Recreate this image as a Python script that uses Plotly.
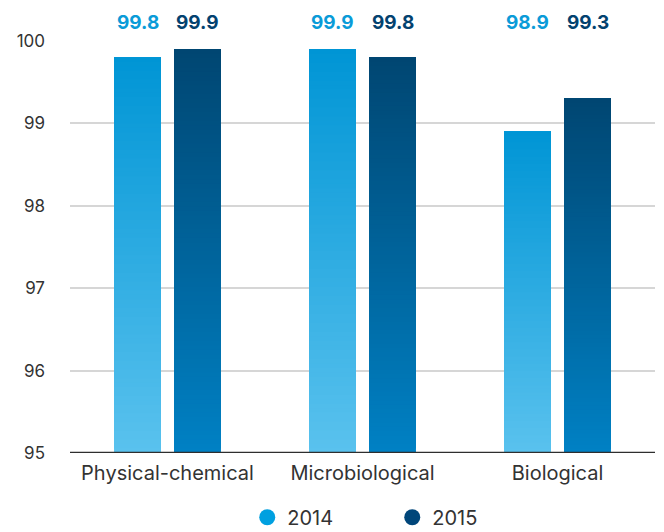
import plotly.graph_objects as go

categories = ["Physical-chemical", "Microbiological", "Biological"]
series_names = ["2014", "2015"]
values_2014 = [99.8, 99.9, 98.9]
values_2015 = [99.9, 99.8, 99.3]
y_ticks = [95, 96, 97, 98, 99, 100]

AXIS_MIN = 95
FONT = "Inter"

styles = {
    "2014": dict(top=(0, 149, 213), bottom=(90, 194, 238), label="#0A9BD8", legend="#00A0E0"),
    "2015": dict(top=(0, 70, 114), bottom=(0, 129, 196), label="#03426F", legend="#00467A"),
}

def mix(c0, c1, t):
    return "rgb(%d,%d,%d)" % tuple(round(a + (b - a) * t) for a, b in zip(c0, c1))

fig = go.Figure()
N = 90
for name, vals in [("2014", values_2014), ("2015", values_2015)]:
    st = styles[name]
    for k in range(N):
        # each segment runs from its own start up to the bar top; later ones overlay earlier ones
        bases = [AXIS_MIN + (v - AXIS_MIN) * k / N for v in vals]
        heights = [v - b for v, b in zip(vals, bases)]
        t = (k + 0.5) / N
        col = mix(st["bottom"], st["top"], t)
        fig.add_trace(go.Bar(
            x=categories, y=heights, base=bases, offsetgroup=name,
            marker=dict(color=col, line=dict(width=0)),
            showlegend=False, hoverinfo="skip",
        ))
    # legend entry
    fig.add_trace(go.Scatter(
        x=[categories[0]], y=[None], mode="markers", name=name,
        marker=dict(symbol="circle", size=20, color=st["legend"]),
    ))
    # value labels
    shift = -30 if name == "2014" else 30
    for c, v in zip(categories, vals):
        fig.add_annotation(
            x=c, xref="x", y=1, yref="paper", yanchor="middle", yshift=19, xshift=shift,
            text="<b>%.1f</b>" % v, showarrow=False,
            font=dict(family=FONT, size=19, color=st["label"]),
        )

fig.update_layout(
    width=664, height=532,
    margin=dict(l=70, r=9, t=41, b=79, autoexpand=False),
    paper_bgcolor="white", plot_bgcolor="white",
    barmode="group", bargap=0.385, bargroupgap=0.217,
    font=dict(family=FONT, color="#333333"),
    showlegend=True,
    legend=dict(
        orientation="h", x=0.303, xanchor="left",
        y=-0.156, yanchor="middle",
        font=dict(family=FONT, size=20, color="#333333"),
        entrywidth=100, entrywidthmode="pixels", itemsizing="trace",
        tracegroupgap=0,
    ),
)
fig.update_xaxes(
    type="category", categoryorder="array", categoryarray=categories,
    showgrid=False, showline=False, ticks="",
    tickfont=dict(family=FONT, size=20, color="#333333"),
    ticklabelstandoff=6,
)
fig.update_yaxes(
    range=[AXIS_MIN, 100.0], tickvals=y_ticks,
    showgrid=True, gridcolor="#d6d6d6", gridwidth=1.5,
    zeroline=False, showline=False, ticks="",
    tickfont=dict(family=FONT, size=17, color="#333333"),
    ticklabelstandoff=24,
)
# base axis line at 95
fig.add_hline(y=AXIS_MIN, line=dict(color="#2e2e2e", width=2.5), layer="above")

fig.write_html("out.html")
